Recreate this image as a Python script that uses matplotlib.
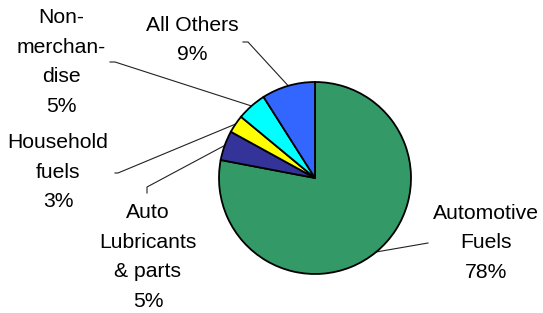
import numpy as np
import matplotlib
matplotlib.use("Agg")
import matplotlib.pyplot as plt

categories = ["Automotive\nFuels", "Auto\nLubricants\n& parts", "Household\nfuels",
              "Non-\nmerchan-\ndise", "All Others"]
values = [78, 5, 3, 5, 9]
colors = ["#339966", "#333399", "#FFFF00", "#00FFFF", "#3366FF"]

W, H = 543, 313
CX, CY, R = 315, 178, 96  # pie centre / radius in pixels (from top)

def p2d(px, py):
    return ((px - CX) / R, (CY - py) / R)

# label block centres (pixels) and leader-line bend points (pixels)
label_pos = [(486, 243), (148, 257), (58, 172), (61, 62), (192, 40)]
leader_bend = [
    [(428, 243)],
    [(147, 193), (147, 187)],
    [(115, 173), (118, 173)],
    [(110, 62), (115, 62)],
    [(243, 42), (248, 42)],
]

fig = plt.figure(figsize=(W / 100, H / 100), dpi=100)
ax = fig.add_axes([0, 0, 1, 1])

wedges, _ = ax.pie(values, colors=colors, startangle=90, counterclock=False,
                   radius=1, center=(0, 0), frame=True,
                   wedgeprops=dict(edgecolor="black", linewidth=1.3))
ax.set_xlim(-CX / R, (W - CX) / R)
ax.set_ylim(-(H - CY) / R, CY / R)
ax.set_aspect("equal")
ax.axis("off")

total = sum(values)
for w, cat, val, lp, bend in zip(wedges, categories, values, label_pos, leader_bend):
    mid = np.deg2rad((w.theta1 + w.theta2) / 2)
    ex, ey = np.cos(mid), np.sin(mid)
    pts = [p2d(*b) for b in bend] + [(ex, ey)]
    xs, ys = zip(*pts)
    ax.plot(xs, ys, color="#222222", linewidth=0.8, zorder=0.5)
    tx, ty = p2d(*lp)
    ax.text(tx, ty, f"{cat}\n{round(val / total * 100)}%", ha="center", va="center",
            multialignment="center", fontsize=15.2, family="Liberation Sans",
            linespacing=1.72, color="black")

fig.savefig("out.png", dpi=100)
